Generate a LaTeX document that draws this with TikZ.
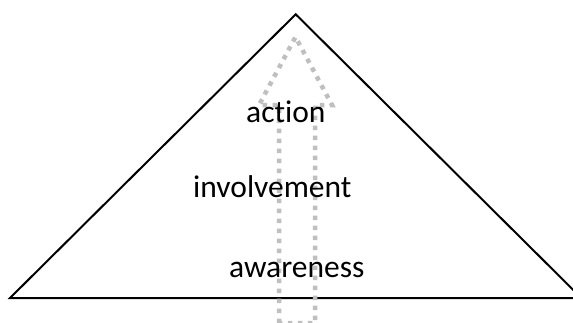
\documentclass[tikz,border=0pt]{standalone}
\usepackage{fontspec}
\setmainfont{Carlito}[Ligatures={NoCommon}]
\begin{document}
\begin{tikzpicture}[x=1pt,y=-1pt,
  tri/.style={draw=black,line width=2pt,line join=miter},
  arr/.style={draw=black!25,line width=4.5pt,dash pattern=on 4.5pt off 5.5pt},
  lbl/.style={font=\fontsize{31.5}{36}\selectfont,anchor=base west,inner sep=0pt,text=black}]
\useasboundingbox (0,0) rectangle (573,322);
\begin{scope}
\clip (0,0) rectangle (573,322);
\coordinate (apex) at (295.7,14.3);
\coordinate (bl) at (10,298);
\coordinate (br) at (581.4,298);
\draw[tri] (bl) -- (apex) -- (br) -- cycle;
\coordinate (s1) at (279,323);
\coordinate (s2) at (279,105);
\coordinate (h1) at (259,105);
\coordinate (tip) at (295.5,37);
\coordinate (h2) at (332,105);
\coordinate (s3) at (315,105);
\coordinate (s4) at (315,323);
\draw[arr] (s1) -- (s2) -- (h1) -- (tip) -- (h2) -- (s3) -- (s4) -- cycle;
\end{scope}
\node[lbl] (action) at (246,122) {action};
\node[lbl] (involvement) at (193,197) {involvement};
\node[lbl] (awareness) at (229,277) {awareness};
\end{tikzpicture}
\end{document}
